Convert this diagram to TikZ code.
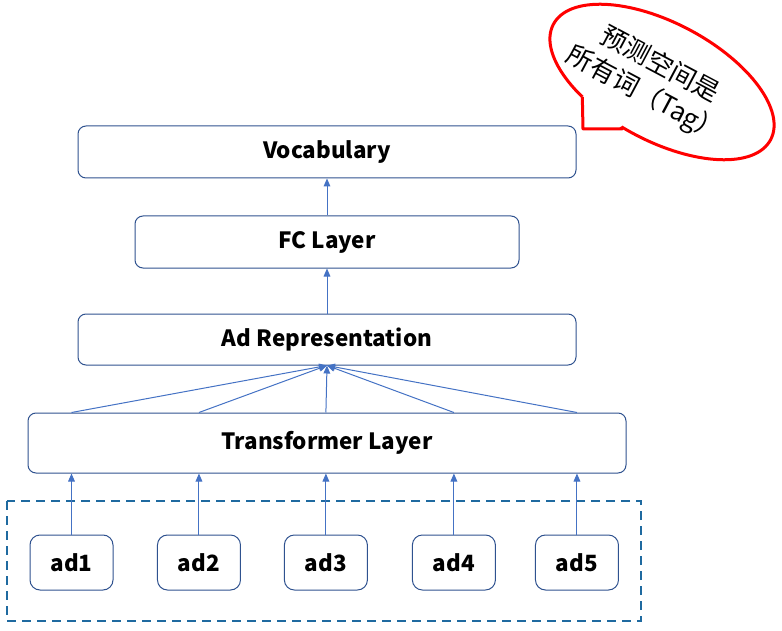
\documentclass[tikz,border=0pt]{standalone}
\usepackage{fontspec}
\setmainfont{Noto Sans CJK SC}
\usetikzlibrary{positioning,arrows.meta}
\definecolor{boxblue}{HTML}{2F528F}
\definecolor{arrblue}{HTML}{4472C4}
\definecolor{dashblue}{HTML}{1F6AA0}
\tikzset{%
  box/.style={draw=boxblue,line width=.75pt,rounded corners=6pt,font=\bfseries\fontsize{16.8}{20}\selectfont},
  adbox/.style={box,minimum width=62.25pt,minimum height=41.25pt,rounded corners=7.5pt},
  arr/.style={draw=arrblue,line width=.75pt,-{Triangle[length=6pt,width=5pt]}},
  group/.style={draw=dashblue,line width=1.5pt,dash pattern=on 6.75pt off 4.5pt},
  callout/.style={draw=red,line width=2.25pt,line join=round}
}
\begin{document}
\begin{tikzpicture}[x=.75pt,y=-.75pt]
  \useasboundingbox (0,0) rectangle (782,631);

  % layers
  \node[box,minimum width=373.5pt,minimum height=39pt] (voc) at (327,152) {Vocabulary};
  \node[box,minimum width=288pt,minimum height=39pt,below=27.75pt of voc] (fc) {FC Layer};
  \node[box,minimum width=373.5pt,minimum height=38.25pt,below=33.75pt of fc] (rep) {Ad Representation};
  \node[box,minimum width=448.5pt,minimum height=45pt,below=35.25pt of rep] (trans) {Transformer Layer};

  % ads
  \draw[group] (7,501) rectangle (641,621);
  \node[adbox] (ad1) at (71.5,562.5) {ad1};
  \node[adbox,right=32.6pt of ad1] (ad2) {ad2};
  \node[adbox,right=32.2pt of ad2] (ad3) {ad3};
  \node[adbox,right=33pt of ad3] (ad4) {ad4};
  \node[adbox,right=29.3pt of ad4] (ad5) {ad5};

  \draw[arr] (ad1) -- (ad1 |- trans.south);
  \draw[arr] (ad2) -- (ad2 |- trans.south);
  \draw[arr] (ad3) -- (ad3 |- trans.south);
  \draw[arr] (ad4) -- (ad4 |- trans.south);
  \draw[arr] (ad5) -- (ad5 |- trans.south);

  \draw[arr] (ad1 |- trans.north) -- (rep.south);
  \draw[arr] (ad2 |- trans.north) -- (rep.south);
  \draw[arr] (ad3 |- trans.north) -- (rep.south);
  \draw[arr] (ad4 |- trans.north) -- (rep.south);
  \draw[arr] (ad5 |- trans.north) -- (rep.south);

  \draw[arr] (rep) -- (fc);
  \draw[arr] (fc) -- (voc);

  % callout
  \begin{scope}[shift={(662,82)},rotate=-28]
    \coordinate (p1) at (121:123 and 59);
    \coordinate (p2) at (97:123 and 59);
    \coordinate (q1) at (121:113 and 49);
    \coordinate (q2) at (97:113 and 49);
    \draw[callout,fill=white] (0,0) ellipse [x radius=123,y radius=59];
  \end{scope}
  \coordinate (tipa) at (583,129);
  \coordinate (tipb) at (622,129);
  \fill[white] (q1) -- (p1) -- (tipa) -- (tipb) -- (p2) -- (q2) -- cycle;
  \draw[callout] (p1) -- (tipa) -- (tipb) -- (p2);
  \node[font=\fontsize{19.5}{25}\selectfont,rotate=-28,align=center] (note) at (652,80) {预测空间是\\所有词（Tag）};
\end{tikzpicture}
\end{document}
